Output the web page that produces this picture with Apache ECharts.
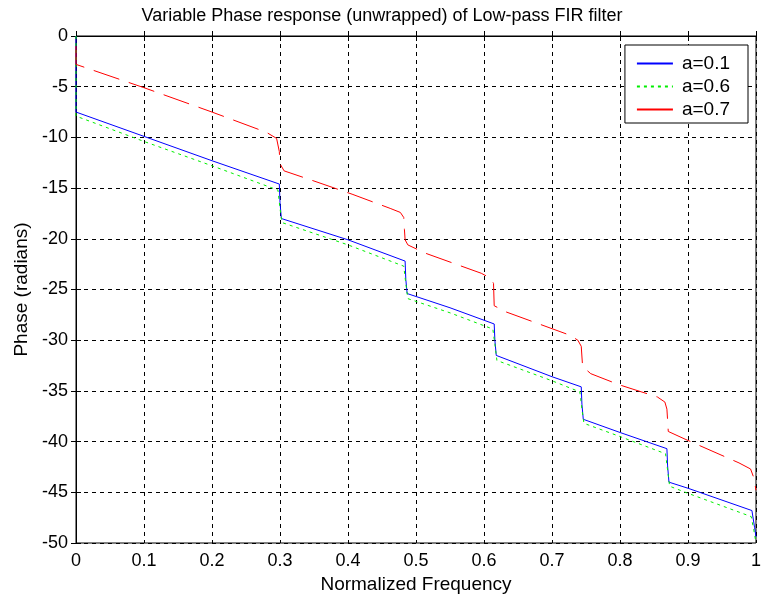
<!DOCTYPE html>
<html>
<head>
<meta charset="utf-8">
<title>Variable Phase response</title>
<script src="https://cdn.jsdelivr.net/npm/echarts@6/dist/echarts.min.js"></script>
<style>
  html, body { margin: 0; padding: 0; background: #fff; }
  #chart { width: 764px; height: 601px; }
</style>
</head>
<body>
<div id="chart"></div>
<script>
// values (frequency, phase in radians)
const freqA1 = [0, 0, 0.1, 0.2, 0.299, 0.300, 0.302, 0.4, 0.484, 0.485, 0.487, 0.55, 0.615, 0.616, 0.618, 0.7, 0.743, 0.744, 0.746, 0.8, 0.869, 0.870, 0.872, 0.9, 0.994, 0.998, 1.0]
const phaseA1 = [0, -7.5, -9.9, -12.3, -14.6, -16.4, -18.0, -20.1, -22.2, -24.0, -25.4, -26.8, -28.4, -30.0, -31.5, -33.6, -34.6, -36.3, -37.8, -39.1, -40.7, -42.4, -44.0, -44.6, -46.8, -48.5, -49.4]

const freqA6 = [0, 0, 0.1, 0.2, 0.297, 0.300, 0.303, 0.4, 0.482, 0.485, 0.488, 0.55, 0.613, 0.616, 0.619, 0.7, 0.741, 0.744, 0.747, 0.8, 0.867, 0.870, 0.873, 0.9, 0.993, 0.997, 1.0]
const phaseA6 = [0, -7.9, -10.4, -12.8, -15.2, -17.0, -18.4, -20.6, -22.7, -24.4, -25.9, -27.3, -28.9, -30.4, -32.0, -34.0, -35.1, -36.8, -38.2, -39.5, -41.2, -42.8, -44.4, -45.1, -47.4, -48.8, -50]

const freqA7 = [0, 0, 0.1, 0.2, 0.28, 0.295, 0.299, 0.300, 0.306, 0.35, 0.406, 0.462, 0.477, 0.482, 0.483, 0.484, 0.488, 0.513, 0.596, 0.610, 0.614, 0.615, 0.632, 0.726, 0.738, 0.743, 0.745, 0.757, 0.799, 0.855, 0.866, 0.869, 0.871, 0.897, 0.975, 0.992, 0.997, 1.0]
const phaseA7 = [-1.0, -2.8, -5.1, -7.5, -9.5, -10.1, -11.4, -12.6, -13.3, -14.3, -15.6, -17.0, -17.4, -17.9, -19.1, -20.1, -20.6, -21.4, -23.4, -23.9, -24.4, -26.6, -27.2, -29.5, -30.0, -30.6, -32.6, -33.3, -34.4, -35.6, -36.1, -36.8, -39.0, -39.8, -42.1, -42.7, -43.6, -44.8]

const legendNames = ['a=0.1', 'a=0.6', 'a=0.7']

const zip = (xs, ys) => xs.map((x, i) => [x, ys[i]])

const txt = { color: '#000', fontFamily: 'Liberation Sans, Arial, sans-serif', fontSize: 18 }

const chartDom = document.getElementById('chart')
const myChart = echarts.init(chartDom)

const option = {
  animation: false,
  backgroundColor: '#fff',
  title: {
    text: 'Variable Phase response (unwrapped) of Low-pass FIR filter',
    left: 'center',
    top: 2,
    textStyle: { ...txt, fontWeight: 'normal', fontSize: 18 }
  },
  grid: {
    left: 76, right: 6, top: 36, bottom: 58,
    show: true, borderColor: '#000', borderWidth: 1
  },
  legend: {
    orient: 'vertical',
    right: 16, top: 45,
    padding: [9, 18, 4, 11],
    backgroundColor: '#fff',
    borderColor: '#000',
    borderWidth: 1,
    itemWidth: 36,
    itemHeight: 16,
    itemGap: 4,
    itemStyle: { opacity: 0 },
    textStyle: { ...txt, fontSize: 19, padding: [0, 0, 0, 4] },
    data: [
      { name: legendNames[0] },
      { name: legendNames[1] },
      { name: legendNames[2], lineStyle: { type: 'solid' } }
    ]
  },
  xAxis: [{
    type: 'value', min: 0, max: 1, interval: 0.1,
    name: 'Normalized Frequency', nameLocation: 'middle', nameGap: 31,
    nameTextStyle: { ...txt, fontSize: 19 },
    axisLine: { lineStyle: { color: '#000' } },
    axisTick: { inside: true, length: 5, lineStyle: { color: '#000' } },
    axisLabel: { ...txt, margin: 9, formatter: v => String(Math.round(v * 10) / 10) },
    splitLine: { show: true, lineStyle: { color: '#000', type: [4, 4], width: 1 } }
  }, {
    type: 'value', min: 0, max: 1, interval: 0.1, position: 'top',
    axisLine: { lineStyle: { color: '#000' } },
    axisTick: { inside: true, length: 5, lineStyle: { color: '#000' } },
    axisLabel: { show: false }, splitLine: { show: false }
  }],
  yAxis: [{
    type: 'value', min: -50, max: 0, interval: 5,
    name: 'Phase (radians)', nameLocation: 'middle', nameGap: 44,
    nameTextStyle: { ...txt, fontSize: 19 },
    axisLine: { show: true, lineStyle: { color: '#000' } },
    axisTick: { show: true, inside: true, length: 5, lineStyle: { color: '#000' } },
    axisLabel: { ...txt, margin: 8 },
    splitLine: { show: true, lineStyle: { color: '#000', type: [4, 4], width: 1 } }
  }, {
    type: 'value', min: -50, max: 0, interval: 5, position: 'right',
    axisLine: { show: true, lineStyle: { color: '#000' } },
    axisTick: { show: true, inside: true, length: 5, lineStyle: { color: '#000' } },
    axisLabel: { show: false }, splitLine: { show: false }
  }],
  series: [
    {
      name: legendNames[0], type: 'line', symbol: 'none', color: '#0000ff',
      lineStyle: { width: 1, color: '#0000ff' },
      data: zip(freqA1, phaseA1)
    },
    {
      name: legendNames[1], type: 'line', symbol: 'none', color: '#00ee00',
      lineStyle: { width: 1, color: '#00ee00', type: [3, 4] },
      data: zip(freqA6, phaseA6)
    },
    {
      name: legendNames[2], type: 'line', symbol: 'none', color: '#ff0000',
      lineStyle: { width: 1, color: '#ff0000', type: [27, 10] },
      data: zip(freqA7, phaseA7)
    }
  ]
}

option && myChart.setOption(option)
</script>
</body>
</html>
